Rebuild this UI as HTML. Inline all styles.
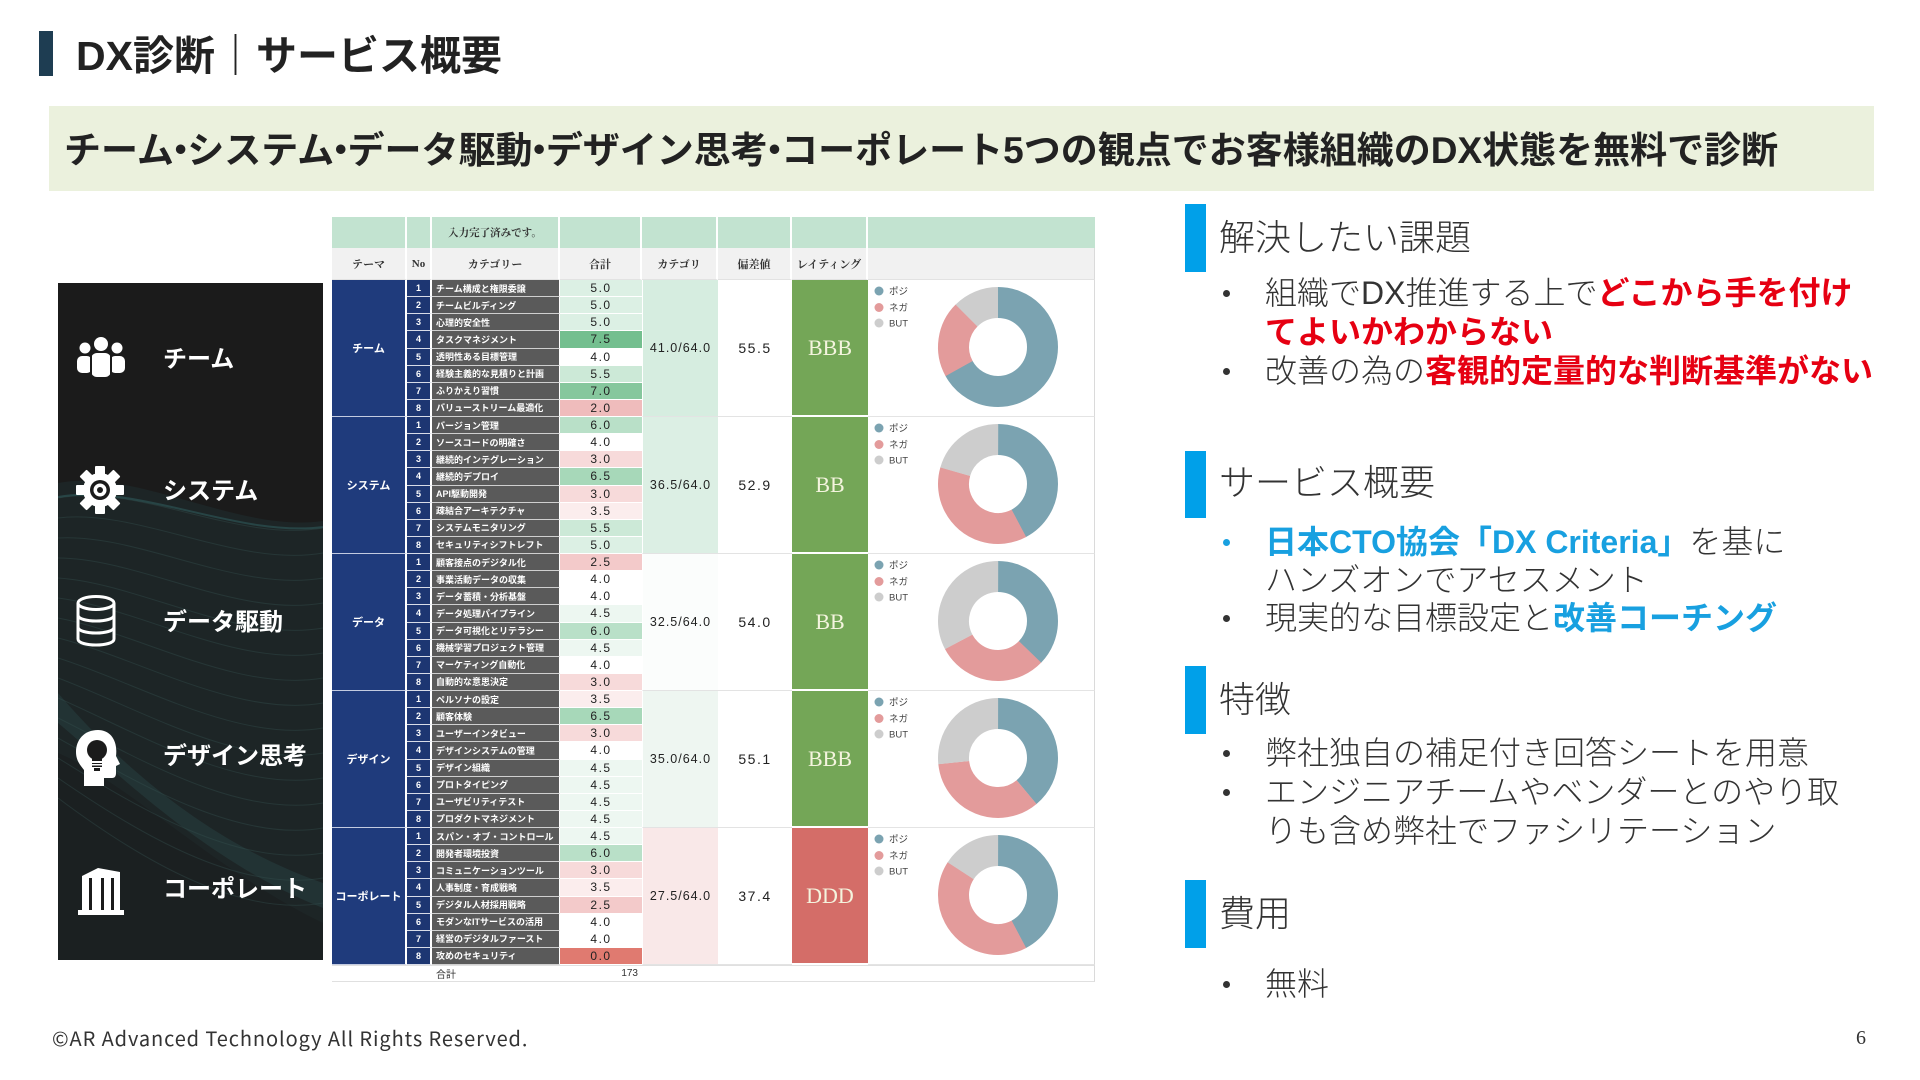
<!DOCTYPE html>
<html lang="ja">
<head>
<meta charset="utf-8">
<style>
html,body{margin:0;padding:0;}
body{width:1920px;height:1080px;position:relative;overflow:hidden;background:#fff;font-family:"Liberation Sans","Noto Sans CJK JP",sans-serif;color:#333;}
.abs{position:absolute;white-space:nowrap;}
.tbar{position:absolute;left:39px;top:31px;width:14px;height:45px;background:#1e3d52;}
.title{left:76px;top:28px;font-size:41px;line-height:56px;font-weight:700;color:#222;letter-spacing:0;}
.band{position:absolute;left:49px;top:106px;width:1825px;height:85px;background:#ebf1dd;}
.bandtxt{left:64px;top:129px;font-size:37px;line-height:44px;font-weight:bold;color:#222;}
.md{margin-left:-0.32em;margin-right:-0.32em;}
.panel{position:absolute;left:58px;top:283px;width:265px;height:677px;background:#1b1b1b;overflow:hidden;}
.ptxt{position:absolute;left:163px;font-size:24px;line-height:34px;font-weight:bold;color:#fff;white-space:nowrap;}
.tbl{position:absolute;left:332px;top:217px;width:763px;height:765px;display:grid;grid-template-columns:75px 25px 128px 82px 76px 74px 76px 227px;grid-template-rows:31px 32px repeat(40,17.125px) 17px;font-family:"Liberation Sans","Noto Sans CJK JP",sans-serif;}
.tbl>div{display:flex;align-items:center;justify-content:center;overflow:hidden;white-space:nowrap;box-sizing:border-box;}
.h1{background:#c2e3d0;border-right:2px solid #fff;font-family:"Liberation Serif","Noto Serif CJK SC",serif;font-size:10.5px;font-weight:bold;color:#333;}
.h2{background:#f1f1f1;border-right:2px solid #fff;border-bottom:1px solid #e2e2e2;font-family:"Liberation Serif","Noto Serif CJK SC",serif;font-size:11px;font-weight:bold;color:#333;}
.t{grid-column:1;grid-row:span 8;background:#1f3b7c;color:#fff;font-size:11px;font-weight:bold;border-right:2px solid #fff;border-bottom:1px solid #c3cbe0;}
.n{grid-column:2;background:#1d3672;color:#fff;font-size:9px;font-weight:bold;border-bottom:1px solid #d8dce8;border-right:2px solid #fff;}
.c{grid-column:3;background:#5a5a5a;color:#fff;font-size:9px;font-weight:bold;justify-content:flex-start !important;padding-left:4px;border-bottom:1px solid #cfcfcf;border-right:1px solid #fff;}
.v{grid-column:4;font-size:12px;color:#222;border-bottom:1px solid #fff;letter-spacing:1.5px;}
.g{grid-column:5;grid-row:span 8;font-size:12.5px;color:#222;border-bottom:1px solid #e3e3e3;border-left:1px solid #fff;letter-spacing:1px;}
.d{grid-column:6;grid-row:span 8;font-size:14px;color:#222;background:#fff;border-bottom:1px solid #e3e3e3;letter-spacing:1.5px;}
.r{grid-column:7;grid-row:span 8;font-family:"Liberation Serif","DejaVu Serif",serif;font-size:22px;color:#f4f4de;border-bottom:2px solid #fff;}
.p{grid-column:8;grid-row:span 8;background:#fff;border-bottom:1px solid #e4e4e4;border-right:1px solid #dadada;}
.s{background:#fff;border-top:1px solid #e0e0e0;border-bottom:1px solid #e0e0e0;font-size:10px;color:#333;}
.bar{position:absolute;left:1185px;width:21px;background:#00a0e9;}
.hd{position:absolute;left:1219px;font-size:36px;line-height:44px;font-weight:300;color:#333;white-space:nowrap;}
.ln{position:absolute;left:1265px;font-size:32px;line-height:38px;font-weight:300;color:#333;white-space:nowrap;}
.dot{position:absolute;left:1223px;width:7px;height:7px;border-radius:50%;background:#333;}
.red{color:#e60012;font-weight:bold;}
.blue{color:#18a0e0;font-weight:bold;}
.foot{left:52px;top:1025px;font-size:20px;line-height:26px;letter-spacing:0.9px;color:#333;font-family:"Noto Sans CJK JP","Liberation Sans",sans-serif;}
.pg{left:1856px;top:1025px;font-size:20px;line-height:26px;color:#333;font-family:"Liberation Serif",serif;}
</style>
</head>
<body>

<div class="tbar"></div>
<div class="abs title">DX診断｜サービス概要</div>

<div class="band"></div>
<div class="abs bandtxt">チーム<span class="md">・</span>システム<span class="md">・</span>データ駆動<span class="md">・</span>デザイン思考<span class="md">・</span>コーポレート5つの観点でお客様組織のDX状態を無料で診断</div>

<!-- Left panel -->
<div class="panel">
<svg width="265" height="677" style="position:absolute;left:0;top:0">
  <path d="M0,200 C80,185 180,250 265,238 L265,660 C180,610 80,530 0,480 Z" fill="#1d2526"/>
  <path d="M0,470 C70,500 160,590 265,640 L265,677 L0,677 Z" fill="#1b2021"/>
  <path d="M0,440 C60,490 150,580 265,625 L265,600 C150,560 60,480 0,410 Z" fill="#284242" opacity="0.5"/>
  <g fill="none" stroke="#34504f" stroke-width="1" opacity="0.4">
    <path d="M0,215 C80,200 180,260 265,245"/>
    <path d="M0,235 C80,225 180,285 265,270"/>
    <path d="M0,255 C80,250 180,310 265,295"/>
    <path d="M0,275 C80,275 180,335 265,320"/>
    <path d="M0,295 C80,300 180,360 265,345"/>
    <path d="M0,315 C80,325 180,385 265,370"/>
    <path d="M0,335 C80,350 180,410 265,395"/>
    <path d="M0,355 C80,375 180,435 265,420"/>
    <path d="M0,375 C80,400 180,460 265,445"/>
    <path d="M0,395 C80,425 180,485 265,470"/>
    <path d="M0,415 C80,450 180,510 265,495"/>
    <path d="M0,435 C80,475 180,535 265,520"/>
    <path d="M0,455 C80,500 180,560 265,545"/>
    <path d="M0,475 C80,525 180,585 265,570"/>
    <path d="M0,495 C80,550 180,610 265,595"/>
    <path d="M0,515 C80,575 180,635 265,620"/>
  </g>
  <path d="M0,214 C80,200 180,255 265,244" fill="none" stroke="#2f5a5a" stroke-width="2" opacity="0.6"/>
</svg>
</div>

<!-- Icons -->
<svg class="abs" style="left:76px;top:336px" width="50" height="42" viewBox="0 0 50 42">
  <g fill="#fff">
    <circle cx="25" cy="8" r="7"/>
    <circle cx="9" cy="12" r="5.5"/>
    <circle cx="41" cy="12" r="5.5"/>
    <rect x="15" y="17" width="20" height="24" rx="6"/>
    <rect x="1" y="20" width="15" height="17" rx="5"/>
    <rect x="34" y="20" width="15" height="17" rx="5"/>
  </g>
  <g fill="#1b1b1b"><rect x="14" y="16" width="2" height="26"/><rect x="34" y="16" width="2" height="26"/></g>
</svg>

<svg class="abs" style="left:76px;top:466px" width="48" height="48" viewBox="0 0 48 48">
  <g fill="#fff" transform="translate(24,24)">
    <circle r="17"/>
    <rect x="-5" y="-24" width="10" height="9" rx="1"/>
    <rect x="-5" y="-24" width="10" height="9" rx="1" transform="rotate(45)"/>
    <rect x="-5" y="-24" width="10" height="9" rx="1" transform="rotate(90)"/>
    <rect x="-5" y="-24" width="10" height="9" rx="1" transform="rotate(135)"/>
    <rect x="-5" y="-24" width="10" height="9" rx="1" transform="rotate(180)"/>
    <rect x="-5" y="-24" width="10" height="9" rx="1" transform="rotate(225)"/>
    <rect x="-5" y="-24" width="10" height="9" rx="1" transform="rotate(270)"/>
    <rect x="-5" y="-24" width="10" height="9" rx="1" transform="rotate(315)"/>
    <circle r="10" fill="#1b1b1b"/>
    <circle r="6.5" fill="#fff"/>
    <circle r="3" fill="#1b1b1b"/>
  </g>
</svg>

<svg class="abs" style="left:74px;top:594px" width="44" height="54" viewBox="0 0 44 54">
  <g fill="none" stroke="#fff" stroke-width="3">
    <ellipse cx="22" cy="9" rx="18" ry="6.5"/>
    <path d="M4,9 V45 C4,53 40,53 40,45 V9"/>
    <path d="M4,21 C4,29 40,29 40,21"/>
    <path d="M4,33 C4,41 40,41 40,33"/>
  </g>
</svg>

<svg class="abs" style="left:74px;top:728px" width="50" height="60" viewBox="0 0 50 60">
  <path fill="#fff" d="M24,2 C10,2 2,12 2,24 C2,33 7,38 10,42 L10,58 L30,58 L30,50 L38,50 C41,50 42,48 42,45 L42,38 L46,36 L42,28 C44,12 36,2 24,2 Z"/>
  <circle cx="23" cy="22" r="10" fill="#1b1b1b"/>
  <rect x="18" y="30" width="10" height="9" fill="#1b1b1b"/>
  <rect x="17" y="33" width="12" height="2" fill="#fff"/>
  <rect x="17" y="36" width="12" height="1.5" fill="#fff"/>
  <rect x="20" y="40" width="6" height="3" fill="#1b1b1b"/>
</svg>

<svg class="abs" style="left:76px;top:866px" width="50" height="50" viewBox="0 0 50 50">
  <g fill="#fff">
    <path d="M6,10 L22,2 L44,6 L44,46 L6,46 Z"/>
    <rect x="2" y="44" width="46" height="5"/>
  </g>
  <g fill="#1b1b1b">
    <rect x="13" y="12" width="3" height="32"/>
    <rect x="25" y="12" width="3" height="32"/>
    <rect x="35" y="12" width="3" height="32"/>
  </g>
</svg>

<div class="ptxt" style="top:343px">チーム</div>
<div class="ptxt" style="top:475px">システム</div>
<div class="ptxt" style="top:606px">データ駆動</div>
<div class="ptxt" style="top:740px">デザイン思考</div>
<div class="ptxt" style="top:873px">コーポレート</div>

<!-- Table -->
<div class="tbl">
  <div class="h1"></div><div class="h1"></div><div class="h1">入力完了済みです。</div><div class="h1"></div><div class="h1"></div><div class="h1"></div><div class="h1"></div><div class="h1" style="border-right:none"></div>
  <div class="h2">テーマ</div><div class="h2">No</div><div class="h2">カテゴリー</div><div class="h2">合計</div><div class="h2">カテゴリ</div><div class="h2">偏差値</div><div class="h2">レイティング</div><div class="h2" style="border-right:1px solid #dadada"></div>

  <!-- Team -->
  <div class="t">チーム</div>
  <div class="n">1</div><div class="c">チーム構成と権限委譲</div><div class="v" style="background:#dcf0e4">5.0</div>
  <div class="g" style="background:#d6ede0">41.0/64.0</div>
  <div class="d">55.5</div>
  <div class="r" style="background:#74a657">BBB</div>
  <div class="p"></div>
  <div class="n">2</div><div class="c">チームビルディング</div><div class="v" style="background:#dcf0e4">5.0</div>
  <div class="n">3</div><div class="c">心理的安全性</div><div class="v" style="background:#dcf0e4">5.0</div>
  <div class="n">4</div><div class="c">タスクマネジメント</div><div class="v" style="background:#74bf8f">7.5</div>
  <div class="n">5</div><div class="c">透明性ある目標管理</div><div class="v" style="background:#ffffff">4.0</div>
  <div class="n">6</div><div class="c">経験主義的な見積りと計画</div><div class="v" style="background:#cce9d7">5.5</div>
  <div class="n">7</div><div class="c">ふりかえり習慣</div><div class="v" style="background:#86c79d">7.0</div>
  <div class="n">8</div><div class="c">バリューストリーム最適化</div><div class="v" style="background:#efbcbc">2.0</div>

  <!-- System -->
  <div class="t">システム</div>
  <div class="n">1</div><div class="c">バージョン管理</div><div class="v" style="background:#b9e0c8">6.0</div>
  <div class="g" style="background:#dcefe4">36.5/64.0</div>
  <div class="d">52.9</div>
  <div class="r" style="background:#74a657">BB</div>
  <div class="p"></div>
  <div class="n">2</div><div class="c">ソースコードの明確さ</div><div class="v" style="background:#ffffff">4.0</div>
  <div class="n">3</div><div class="c">継続的インテグレーション</div><div class="v" style="background:#f7dada">3.0</div>
  <div class="n">4</div><div class="c">継続的デプロイ</div><div class="v" style="background:#a7d8b9">6.5</div>
  <div class="n">5</div><div class="c">API駆動開発</div><div class="v" style="background:#f7dada">3.0</div>
  <div class="n">6</div><div class="c">疎結合アーキテクチャ</div><div class="v" style="background:#fbeded">3.5</div>
  <div class="n">7</div><div class="c">システムモニタリング</div><div class="v" style="background:#cce9d7">5.5</div>
  <div class="n">8</div><div class="c">セキュリティシフトレフト</div><div class="v" style="background:#dcf0e4">5.0</div>

  <!-- Data -->
  <div class="t">データ</div>
  <div class="n">1</div><div class="c">顧客接点のデジタル化</div><div class="v" style="background:#f3caca">2.5</div>
  <div class="g" style="background:#fbfdfc">32.5/64.0</div>
  <div class="d">54.0</div>
  <div class="r" style="background:#74a657">BB</div>
  <div class="p"></div>
  <div class="n">2</div><div class="c">事業活動データの収集</div><div class="v" style="background:#ffffff">4.0</div>
  <div class="n">3</div><div class="c">データ蓄積・分析基盤</div><div class="v" style="background:#ffffff">4.0</div>
  <div class="n">4</div><div class="c">データ処理パイプライン</div><div class="v" style="background:#edf7f1">4.5</div>
  <div class="n">5</div><div class="c">データ可視化とリテラシー</div><div class="v" style="background:#b9e0c8">6.0</div>
  <div class="n">6</div><div class="c">機械学習プロジェクト管理</div><div class="v" style="background:#edf7f1">4.5</div>
  <div class="n">7</div><div class="c">マーケティング自動化</div><div class="v" style="background:#ffffff">4.0</div>
  <div class="n">8</div><div class="c">自動的な意思決定</div><div class="v" style="background:#f7dada">3.0</div>

  <!-- Design -->
  <div class="t">デザイン</div>
  <div class="n">1</div><div class="c">ペルソナの設定</div><div class="v" style="background:#fbeded">3.5</div>
  <div class="g" style="background:#eef6f1">35.0/64.0</div>
  <div class="d">55.1</div>
  <div class="r" style="background:#74a657">BBB</div>
  <div class="p"></div>
  <div class="n">2</div><div class="c">顧客体験</div><div class="v" style="background:#a7d8b9">6.5</div>
  <div class="n">3</div><div class="c">ユーザーインタビュー</div><div class="v" style="background:#f7dada">3.0</div>
  <div class="n">4</div><div class="c">デザインシステムの管理</div><div class="v" style="background:#ffffff">4.0</div>
  <div class="n">5</div><div class="c">デザイン組織</div><div class="v" style="background:#edf7f1">4.5</div>
  <div class="n">6</div><div class="c">プロトタイピング</div><div class="v" style="background:#edf7f1">4.5</div>
  <div class="n">7</div><div class="c">ユーザビリティテスト</div><div class="v" style="background:#edf7f1">4.5</div>
  <div class="n">8</div><div class="c">プロダクトマネジメント</div><div class="v" style="background:#edf7f1">4.5</div>

  <!-- Corporate -->
  <div class="t">コーポレート</div>
  <div class="n">1</div><div class="c">スパン・オブ・コントロール</div><div class="v" style="background:#edf7f1">4.5</div>
  <div class="g" style="background:#f9e8e8">27.5/64.0</div>
  <div class="d">37.4</div>
  <div class="r" style="background:#d46d68">DDD</div>
  <div class="p"></div>
  <div class="n">2</div><div class="c">開発者環境投資</div><div class="v" style="background:#b9e0c8">6.0</div>
  <div class="n">3</div><div class="c">コミュニケーションツール</div><div class="v" style="background:#f7dada">3.0</div>
  <div class="n">4</div><div class="c">人事制度・育成戦略</div><div class="v" style="background:#fbeded">3.5</div>
  <div class="n">5</div><div class="c">デジタル人材採用戦略</div><div class="v" style="background:#f3caca">2.5</div>
  <div class="n">6</div><div class="c">モダンなITサービスの活用</div><div class="v" style="background:#ffffff">4.0</div>
  <div class="n">7</div><div class="c">経営のデジタルファースト</div><div class="v" style="background:#ffffff">4.0</div>
  <div class="n">8</div><div class="c">攻めのセキュリティ</div><div class="v" style="background:#e07a70">0.0</div>

  <!-- Sum row -->
  <div class="s" style="grid-column:1"></div>
  <div class="s" style="grid-column:2"></div>
  <div class="s" style="grid-column:3;justify-content:flex-start;padding-left:4px">合計</div>
  <div class="s" style="grid-column:4;justify-content:flex-end;padding-right:4px">173</div>
  <div class="s" style="grid-column:5"></div>
  <div class="s" style="grid-column:6"></div>
  <div class="s" style="grid-column:7"></div>
  <div class="s" style="grid-column:8;border-right:1px solid #dadada"></div>
</div>

<!-- Donut charts -->
<svg class="abs" style="left:868px;top:280px" width="227" height="685" viewBox="0 0 227 685" font-family="Liberation Sans, Noto Sans CJK JP, sans-serif">
  <defs>
    <g id="leg">
      <circle cx="11" cy="11" r="4.5" fill="#7ba3b1"/>
      <text x="21" y="14.5" font-size="9.5" fill="#444">ポジ</text>
      <circle cx="11" cy="27.5" r="4.5" fill="#e39b9b"/>
      <text x="21" y="31" font-size="9.5" fill="#444">ネガ</text>
      <circle cx="11" cy="43" r="4.5" fill="#cdcdcd"/>
      <text x="21" y="46.5" font-size="9.5" fill="#444">BUT</text>
    </g>
  </defs>
  <g fill="none" stroke-width="31">
    <use href="#leg"/>
    <circle cx="130" cy="67" r="44.5" stroke="#7ba3b1" stroke-dasharray="187.2 300" transform="rotate(-90 130 67)"/>
    <circle cx="130" cy="67" r="44.5" stroke="#e39b9b" stroke-dasharray="57.5 300" transform="rotate(151 130 67)"/>
    <circle cx="130" cy="67" r="44.5" stroke="#cdcdcd" stroke-dasharray="34.9 300" transform="rotate(225 130 67)"/>
    <use href="#leg" y="137"/>
    <circle cx="130" cy="204" r="44.5" stroke="#7ba3b1" stroke-dasharray="118.1 300" transform="rotate(-90 130 204)"/>
    <circle cx="130" cy="204" r="44.5" stroke="#e39b9b" stroke-dasharray="104.1 300" transform="rotate(62 130 204)"/>
    <circle cx="130" cy="204" r="44.5" stroke="#cdcdcd" stroke-dasharray="57.5 300" transform="rotate(196 130 204)"/>
    <use href="#leg" y="274"/>
    <circle cx="130" cy="341" r="44.5" stroke="#7ba3b1" stroke-dasharray="104.1 300" transform="rotate(-90 130 341)"/>
    <circle cx="130" cy="341" r="44.5" stroke="#e39b9b" stroke-dasharray="83.9 300" transform="rotate(44 130 341)"/>
    <circle cx="130" cy="341" r="44.5" stroke="#cdcdcd" stroke-dasharray="91.7 300" transform="rotate(152 130 341)"/>
    <use href="#leg" y="411"/>
    <circle cx="130" cy="478" r="44.5" stroke="#7ba3b1" stroke-dasharray="108.7 300" transform="rotate(-90 130 478)"/>
    <circle cx="130" cy="478" r="44.5" stroke="#e39b9b" stroke-dasharray="96.3 300" transform="rotate(50 130 478)"/>
    <circle cx="130" cy="478" r="44.5" stroke="#cdcdcd" stroke-dasharray="74.6 300" transform="rotate(174 130 478)"/>
    <use href="#leg" y="548"/>
    <circle cx="130" cy="615" r="44.5" stroke="#7ba3b1" stroke-dasharray="118.1 300" transform="rotate(-90 130 615)"/>
    <circle cx="130" cy="615" r="44.5" stroke="#e39b9b" stroke-dasharray="117.3 300" transform="rotate(62 130 615)"/>
    <circle cx="130" cy="615" r="44.5" stroke="#cdcdcd" stroke-dasharray="44.3 300" transform="rotate(213 130 615)"/>
  </g>
</svg>

<!-- Right side -->
<div class="bar" style="top:204px;height:68px"></div>
<div class="hd" style="top:216px">解決したい課題</div>
<div class="dot" style="top:290px"></div>
<div class="ln" style="top:274px">組織でDX推進する上で<span class="red">どこから手を付け</span></div>
<div class="ln" style="top:313px"><span class="red">てよいかわからない</span></div>
<div class="dot" style="top:368px"></div>
<div class="ln" style="top:352px">改善の為の<span class="red">客観的定量的な判断基準がない</span></div>

<div class="bar" style="top:451px;height:67px"></div>
<div class="hd" style="top:461px">サービス概要</div>
<div class="dot" style="top:539px;background:#18a0e0"></div>
<div class="ln" style="top:523px"><span class="blue">日本CTO協会「DX Criteria」</span>を基に</div>
<div class="ln" style="top:561px">ハンズオンでアセスメント</div>
<div class="dot" style="top:615px"></div>
<div class="ln" style="top:599px">現実的な目標設定と<span class="blue">改善コーチング</span></div>

<div class="bar" style="top:666px;height:68px"></div>
<div class="hd" style="top:678px">特徴</div>
<div class="dot" style="top:750px"></div>
<div class="ln" style="top:734px">弊社独自の補足付き回答シートを用意</div>
<div class="dot" style="top:789px"></div>
<div class="ln" style="top:773px">エンジニアチームやベンダーとのやり取</div>
<div class="ln" style="top:812px">りも含め弊社でファシリテーション</div>

<div class="bar" style="top:880px;height:68px"></div>
<div class="hd" style="top:892px">費用</div>
<div class="dot" style="top:981px"></div>
<div class="ln" style="top:965px">無料</div>

<div class="abs foot">©AR Advanced Technology All Rights Reserved.</div>
<div class="abs pg">6</div>

</body>
</html>
